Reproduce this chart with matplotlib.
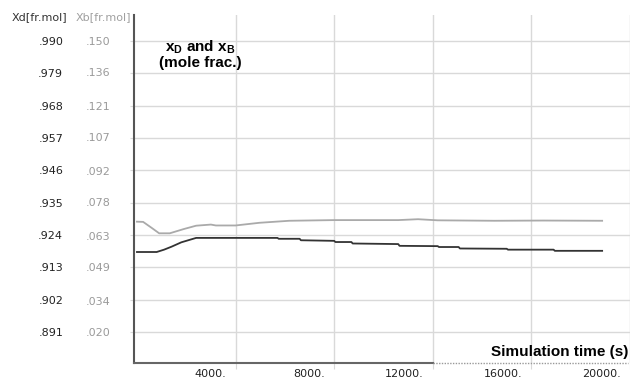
import matplotlib
matplotlib.use('Agg')
import matplotlib.pyplot as plt
from matplotlib.transforms import ScaledTranslation

plt.rcParams['font.family'] = ['DejaVu Sans']

# distillate purity Xd (black) and bottoms composition Xb (gray)
time_d = [0, 800, 1100, 1400, 1800, 2400, 5700, 5750, 6600, 6650, 8000, 8050, 8700, 8750,
          10600, 10650, 12200, 12250, 13050, 13100, 15000, 15050, 16900, 16950, 18870]
xd = [.9182, .9182, .9190, .9200, .9215, .9230, .9230, .9227, .9227, .9222, .9220, .9216, .9216, .9211,
      .9209, .9203, .9202, .9199, .9199, .9194, .9193, .9190, .9190, .9186, .9186]
time_b = [0, 250, 600, 900, 1330, 1900, 2400, 3000, 3200, 4000, 4970, 6180, 8000,
          10600, 11400, 12200, 14500, 16500, 18870]
xb = [.0693, .0692, .0665, .0641, .0641, .0660, .0675, .0680, .0676, .0676, .0688, .0697, .0700,
      .0700, .0704, .0699, .0697, .0698, .0697]

xticks = [4000, 8000, 12000, 16000, 20000]
xtick_labels = ['4000.', '8000.', '12000.', '16000.', '20000.']
xd_ticks = [.990, .979, .968, .957, .946, .935, .924, .913, .902, .891]
xb_ticks = [.150, .136, .121, .107, .092, .078, .063, .049, .034, .020]

fig = plt.figure(figsize=(6.3, 3.8), dpi=100)
ax = fig.add_axes([0.2127, 0.0447, 0.7873, 0.9158])
ax2 = ax.twinx()

ax.set_ylim(.8804, .9989)
ax2.set_ylim(.0061, .1617)
ax.set_xlim(-120, 19920)

ax.plot(time_d, xd, color='#333333', lw=1.3, zorder=3)
ax2.plot(time_b, xb, color='#aaaaaa', lw=1.3, zorder=3)

# ticks and grid
ax.set_xticks(xticks)
ax.set_xticklabels(xtick_labels)
ax.set_yticks(xd_ticks)
ax.set_yticklabels(['.' + f'{v:.3f}'.split('.')[1] for v in xd_ticks])
ax2.set_yticks(xb_ticks)
ax2.set_yticklabels(['.' + f'{v:.3f}'.split('.')[1] for v in xb_ticks])
ax2.yaxis.tick_left()

ax.grid(True, color='#d9d9d9', lw=1)
ax.tick_params(axis='x', length=4, color='#d9d9d9', labelsize=8, labelcolor='#222222', pad=0.5)
ax.tick_params(axis='y', length=3, color='#d9d9d9', labelsize=8, labelcolor='#222222', pad=48)
ax2.tick_params(axis='y', length=0, labelsize=8, labelcolor='#9a9a9a', pad=17)
for lab in ax.get_xticklabels():
    lab.set_horizontalalignment('right')
    lab.set_transform(lab.get_transform() + ScaledTranslation(-9 / 100, 0, fig.dpi_scale_trans))

for a in (ax, ax2):
    for s in ['top', 'right', 'bottom']:
        a.spines[s].set_visible(False)
ax2.spines['left'].set_visible(False)
ax.spines['left'].set_color('#555555')
ax.spines['left'].set_linewidth(1.5)

# bottom axis: solid then dotted
tr = ax.get_xaxis_transform()
ax.plot([-120, 12000], [0, 0], transform=tr, color='#666666', lw=1.5, clip_on=False, zorder=4)
ax.plot([12000, 19920], [0, 0], transform=tr, color='#999999', lw=1, ls=(0, (1, 1)), clip_on=False, zorder=4)

fig.text(12 / 630, 1 - 17 / 380, 'Xd[fr.mol]', fontsize=8, color='#333333', va='center')
fig.text(76 / 630, 1 - 17 / 380, 'Xb[fr.mol]', fontsize=8, color='#a0a0a0', va='center')
fig.text(200 / 630, 1 - 54 / 380, 'x$_\\mathregular{D}$ and x$_\\mathregular{B}$\n(mole frac.)',
         fontsize=11, fontweight='bold', ha='center', va='center', linespacing=1.05,
         family='Liberation Sans')
fig.text(628 / 630, 1 - 352 / 380, 'Simulation time (s)', fontsize=11, fontweight='bold',
         ha='right', va='center', family='Liberation Sans')

fig.savefig('out.png', dpi=100)
